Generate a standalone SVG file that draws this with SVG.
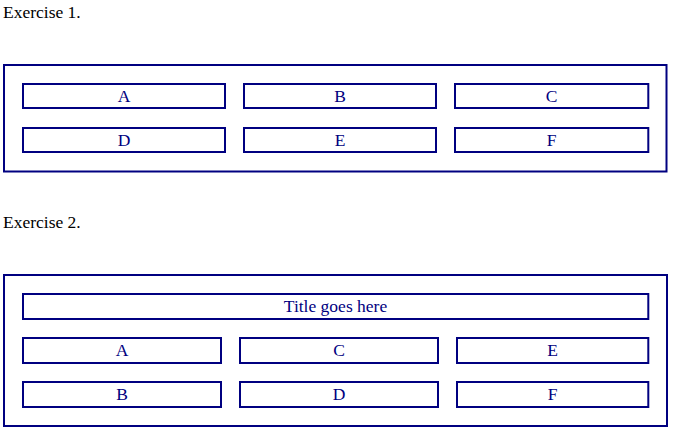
<svg xmlns="http://www.w3.org/2000/svg" width="695" height="436" viewBox="0 0 695 436">
<style>
.box{fill:#fff;stroke:#000080;stroke-width:2}
.h{font-family:"Liberation Serif","Times New Roman",serif;font-size:17.5px;fill:#000}
.t{font-family:"Liberation Serif","Times New Roman",serif;font-size:17.5px;fill:#000080;text-anchor:middle}
</style>
<rect width="695" height="436" fill="#fff"/>
<text class="h" x="3" y="18">Exercise 1.</text>
<g id="ex1">
<rect class="box" x="4" y="65" width="662.5" height="106.5"/>
<g id="e1A"><rect class="box" x="23" y="84" width="202" height="24"/><text class="t" x="124" y="102">A</text></g>
<g id="e1B"><rect class="box" x="244" y="84" width="192" height="24"/><text class="t" x="340" y="102">B</text></g>
<g id="e1C"><rect class="box" x="455" y="84" width="193.3" height="24"/><text class="t" x="551.5" y="102">C</text></g>
<g id="e1D"><rect class="box" x="23" y="128" width="202" height="24"/><text class="t" x="124" y="146">D</text></g>
<g id="e1E"><rect class="box" x="244" y="128" width="192" height="24"/><text class="t" x="340" y="146">E</text></g>
<g id="e1F"><rect class="box" x="455" y="128" width="193.3" height="24"/><text class="t" x="551.5" y="146">F</text></g>
</g>
<text class="h" x="3" y="228">Exercise 2.</text>
<g id="ex2">
<rect class="box" x="4" y="275" width="663" height="151"/>
<g id="e2T"><rect class="box" x="23" y="294" width="625.3" height="25"/><text class="t" x="335.5" y="312">Title goes here</text></g>
<g id="e2A"><rect class="box" x="23" y="338" width="198" height="25"/><text class="t" x="122" y="356">A</text></g>
<g id="e2C"><rect class="box" x="240" y="338" width="198" height="25"/><text class="t" x="339" y="356">C</text></g>
<g id="e2E"><rect class="box" x="457" y="338" width="191.3" height="25"/><text class="t" x="552.5" y="356">E</text></g>
<g id="e2B"><rect class="box" x="23" y="382" width="198" height="25"/><text class="t" x="122" y="400">B</text></g>
<g id="e2D"><rect class="box" x="240" y="382" width="198" height="25"/><text class="t" x="339" y="400">D</text></g>
<g id="e2F"><rect class="box" x="457" y="382" width="191.3" height="25"/><text class="t" x="552.5" y="400">F</text></g>
</g>
<g id="connectors"></g>
</svg>
